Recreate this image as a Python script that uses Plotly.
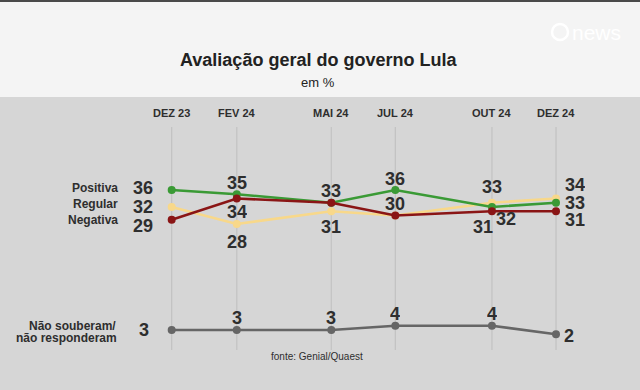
import pandas as pd
import plotly.graph_objects as go

# ---- data ----
dates = ["2023-12-01", "2024-02-01", "2024-05-01", "2024-07-01", "2024-10-01", "2024-12-01"]
date_labels = ["DEZ 23", "FEV 24", "MAI 24", "JUL 24", "OUT 24", "DEZ 24"]
positiva = [36, 35, 33, 36, 32, 33]
regular = [32, 28, 31, 30, 33, 34]
negativa = [29, 34, 33, 30, 31, 31]
nao_sabe = [3, 3, 3, 4, 4, 2]

series_names = {"positiva": "Positiva", "regular": "Regular", "negativa": "Negativa"}
title = "Avaliação geral do governo Lula"
subtitle = "em %"
source = "fonte: Genial/Quaest"

# ---- style ----
W, H = 640, 390
BG = "#d6d6d6"
BAND = "#f4f4f4"
TXT = "#2e2e2e"
FONT = "Liberation Sans, Arial, sans-serif"
colors = {"regular": "#f8d88a", "positiva": "#3a9a35", "negativa": "#8a1515", "ns": "#666666"}
data = {"positiva": positiva, "regular": regular, "negativa": negativa, "ns": nao_sabe}

x0 = pd.Timestamp(dates[0])
xr = [(x0 - pd.Timedelta(days=163.5)).isoformat(), (x0 + pd.Timedelta(days=446)).isoformat()]
yr = [-11.15, 80.79]

fig = go.Figure()
for key in ["regular", "positiva", "negativa", "ns"]:
    fig.add_trace(go.Scatter(
        x=dates, y=data[key], mode="lines+markers",
        line=dict(color=colors[key], width=2.6),
        marker=dict(color=colors[key], size=8),
        showlegend=False, hoverinfo="skip"))

shapes = [
    dict(type="rect", xref="paper", yref="paper", x0=0, x1=1, y0=1 - 97 / H, y1=1,
         fillcolor=BAND, line=dict(width=0), layer="below"),
    dict(type="rect", xref="paper", yref="paper", x0=0, x1=1, y0=1 - 2 / H, y1=1,
         fillcolor="#4a4a4a", line=dict(width=0), layer="below"),
]
for d in dates:
    shapes.append(dict(type="line", xref="x", yref="paper", x0=d, x1=d,
                       y0=1 - 350 / H, y1=1 - 127 / H,
                       line=dict(color="#c2c2c2", width=1.2), layer="below"))
# logo circle
shapes.append(dict(type="circle", xref="paper", yref="paper",
                   x0=552 / W, x1=568 / W, y0=1 - 40 / H, y1=1 - 24 / H,
                   line=dict(color="#ffffff", width=2.5), layer="above"))

ann = []
ann.append(dict(text=title, xref="paper", yref="paper", x=318 / W, y=1 - 60 / H,
                showarrow=False, font=dict(family=FONT, size=18, color="#222222", weight="bold"),
                xanchor="center", yanchor="middle"))
ann.append(dict(text=subtitle, xref="paper", yref="paper", x=318 / W, y=1 - 82 / H,
                showarrow=False, font=dict(family=FONT, size=13, color="#222222"),
                xanchor="center", yanchor="middle"))
ann.append(dict(text="news", xref="paper", yref="paper", x=570 / W, y=1 - 32 / H,
                showarrow=False, font=dict(family=FONT, size=21, color="#ffffff"),
                xanchor="left", yanchor="middle"))
ann.append(dict(text=source, xref="paper", yref="paper", x=317 / W, y=1 - 356 / H,
                showarrow=False, font=dict(family=FONT, size=10, color=TXT),
                xanchor="center", yanchor="middle"))

for d, lab in zip(dates, date_labels):
    ann.append(dict(text=lab, x=d, xref="x", yref="paper", y=1 - 113 / H, showarrow=False,
                    font=dict(family=FONT, size=11, color=TXT, weight="bold"),
                    xanchor="center", yanchor="middle"))

# series names on the left
name_shift = {"positiva": 2, "regular": 3, "negativa": 0}
for key, nm in series_names.items():
    ann.append(dict(text=nm, xref="paper", x=120 / W, y=data[key][0], yref="y",
                    yshift=name_shift[key], showarrow=False,
                    font=dict(family=FONT, size=12, color=TXT, weight="bold"),
                    xanchor="right", yanchor="middle"))
ann.append(dict(text="Não souberam/", xref="paper", x=118 / W, y=nao_sabe[0], yref="y",
                yshift=4, showarrow=False, font=dict(family=FONT, size=12, color=TXT, weight="bold"),
                xanchor="right", yanchor="middle"))
ann.append(dict(text="não responderam", xref="paper", x=119 / W, y=nao_sabe[0], yref="y",
                yshift=-8, showarrow=False, font=dict(family=FONT, size=12, color=TXT, weight="bold"),
                xanchor="right", yanchor="middle"))

# value labels: (series, index, dx px, dy px down)
label_specs = [
    ("positiva", 0, -29, -2), ("regular", 0, -29, 0), ("negativa", 0, -29, 6),
    ("positiva", 1, 0, -11), ("negativa", 1, 0, 13.5), ("regular", 1, 0, 18),
    ("positiva", 2, 0, -12), ("regular", 2, 0, 16),
    ("positiva", 3, 0, -11), ("negativa", 3, 0, -11),
    ("regular", 4, 0, -16), ("negativa", 4, -9, 16), ("positiva", 4, 14, 12),
    ("regular", 5, 19, -13), ("positiva", 5, 19, 0), ("negativa", 5, 19, 9),
    ("ns", 0, -28, 0), ("ns", 1, 0, -12), ("ns", 2, 0, -12), ("ns", 3, 0, -12),
    ("ns", 4, 0, -12), ("ns", 5, 13, 2),
]
for key, i, dx, dy in label_specs:
    v = data[key][i]
    ann.append(dict(text=str(v), x=dates[i], y=v, xref="x", yref="y",
                    xshift=dx, yshift=-dy, showarrow=False,
                    font=dict(family=FONT, size=18, color=TXT, weight="bold"),
                    xanchor="center", yanchor="middle", height=16))

fig.update_layout(
    width=W, height=H, margin=dict(l=0, r=0, t=0, b=0),
    paper_bgcolor=BG, plot_bgcolor="rgba(0,0,0,0)",
    xaxis=dict(type="date", range=xr, visible=False, fixedrange=True),
    yaxis=dict(range=yr, visible=False, fixedrange=True),
    shapes=shapes, annotations=ann,
)
fig.write_html("out.html", config={"displayModeBar": False},
               post_script="document.body.style.margin='0';document.body.style.overflow='hidden';")
